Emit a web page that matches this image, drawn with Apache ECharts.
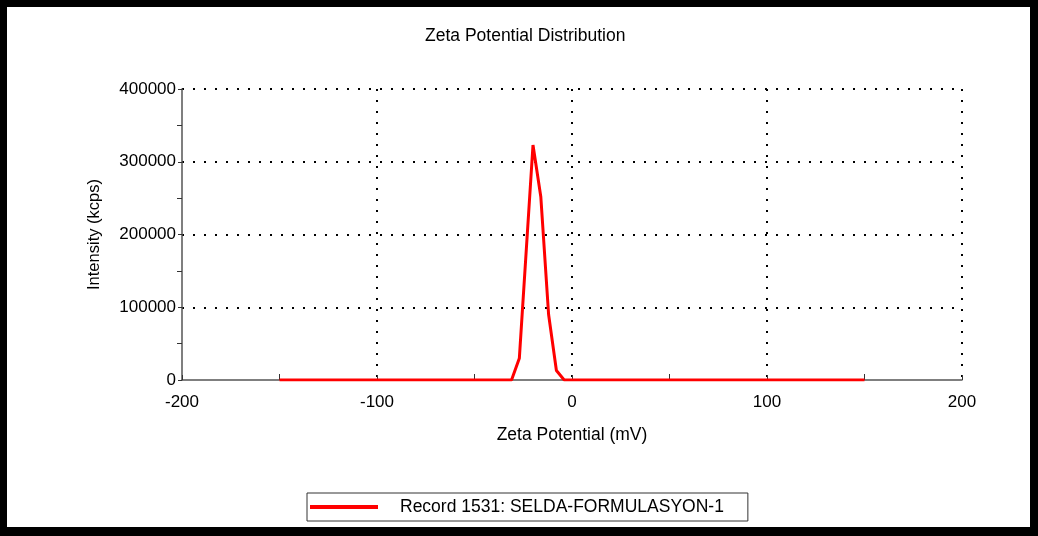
<!DOCTYPE html>
<html>
<head>
<meta charset="utf-8">
<script src="https://cdn.jsdelivr.net/npm/echarts@6/dist/echarts.min.js"></script>
<style>
  html, body { margin: 0; padding: 0; background: #fff; }
  #chart { width: 1038px; height: 536px; box-sizing: border-box; border-style: solid; border-color: #000; border-width: 7px 8px 9px 7px; background: #fff; }
</style>
</head>
<body>
<div id="chart"></div>
<script>
const chartTitle = 'Zeta Potential Distribution';
const xName = 'Zeta Potential (mV)';
const yName = 'Intensity (kcps)';
const seriesName = 'Record 1531: SELDA-FORMULASYON-1';
const zetaMv = [-150, -31, -27, -20, -16, -12, -8, -4, 150];
const intensity = [0, 0, 30000, 323000, 252000, 90000, 13000, 0, 0];

const FONT = "'Liberation Sans', Arial, sans-serif";
const chart = echarts.init(document.getElementById('chart'), null, { renderer: 'canvas' });
const data = zetaMv.map((x, i) => [x, intensity[i]]);
const gridStyle = { color: '#000', width: 2, type: [2, 9] };

chart.setOption({
  animation: false,
  backgroundColor: '#fff',
  title: {
    text: chartTitle,
    left: 418, top: 20, padding: 0,
    textStyle: { fontFamily: FONT, fontSize: 17.5, fontWeight: 'normal', color: '#000' }
  },
  grid: { left: 175, right: 68, top: 82, bottom: 147, containLabel: false },
  legend: {
    left: 300, top: 486,
    data: [{ name: seriesName, icon: 'rect' }],
    itemWidth: 68, itemHeight: 4,
    borderColor: '#333', borderWidth: 1, borderRadius: 0,
    backgroundColor: '#fff',
    padding: [5, 24, 5, 3],
    textStyle: { fontFamily: FONT, fontSize: 17.5, color: '#000', padding: [0, 0, 0, 17] }
  },
  xAxis: {
    type: 'value', min: -200, max: 200, interval: 100,
    name: xName, nameLocation: 'middle', nameGap: 46,
    nameTextStyle: { fontFamily: FONT, fontSize: 17.5, color: '#000' },
    axisLine: { show: true, onZero: false, lineStyle: { color: '#555', width: 1.5 } },
    axisTick: { show: true, inside: true, length: 5, lineStyle: { color: '#333' } },
    minorTick: { show: true, splitNumber: 2, length: 6, lineStyle: { color: '#333' } },
    axisLabel: { fontFamily: FONT, fontSize: 17, color: '#000', margin: 14 },
    splitLine: { show: true, showMinLine: false, lineStyle: gridStyle }
  },
  yAxis: {
    type: 'value', min: 0, max: 400000, interval: 100000,
    name: yName, nameLocation: 'middle', nameGap: 79, nameRotate: 90,
    nameTextStyle: { fontFamily: FONT, fontSize: 16.5, color: '#000' },
    axisLine: { show: true, onZero: false, lineStyle: { color: '#555', width: 1.5 } },
    axisTick: { show: true, inside: false, length: 4, lineStyle: { color: '#333' } },
    minorTick: { show: true, splitNumber: 2, length: 5, lineStyle: { color: '#333' } },
    axisLabel: { fontFamily: FONT, fontSize: 17, color: '#000', margin: 6, formatter: v => String(v) },
    splitLine: { show: true, showMinLine: false, lineStyle: gridStyle }
  },
  series: [{
    name: seriesName,
    type: 'line',
    data: data,
    showSymbol: false,
    symbol: 'none',
    lineStyle: { color: '#ff0000', width: 3 },
    itemStyle: { color: '#ff0000' },
    z: 5
  }]
});
</script>
</body>
</html>
